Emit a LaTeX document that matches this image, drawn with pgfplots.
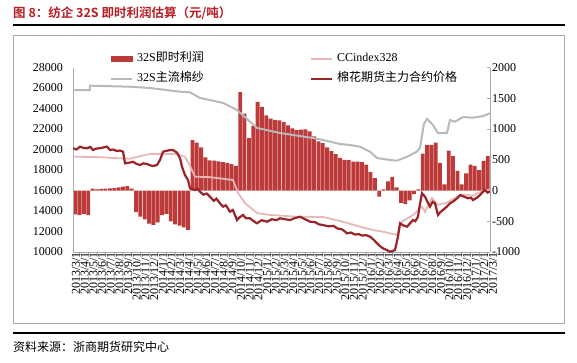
\documentclass[border=0pt]{standalone}
\usepackage{pgfplots}
\pgfplotsset{compat=1.18}
\usepackage{fontspec}
\setmainfont{Liberation Serif}
\newfontfamily\cjk{Noto Sans CJK SC}[BoldFont={Noto Sans CJK SC Bold}]
\definecolor{barcol}{RGB}{188,58,57}
\definecolor{futcol}{RGB}{155,36,40}
\definecolor{ccicol}{RGB}{230,185,184}
\definecolor{yarncol}{RGB}{185,185,185}
\definecolor{axcol}{RGB}{170,170,170}
\definecolor{titlecol}{RGB}{185,30,36}
\begin{document}
\begin{tikzpicture}
% ---------- right axis: bars ----------
\begin{axis}[
  scale only axis, width=417pt, height=184.5pt,
  xmin=0, xmax=48, ymin=-1000, ymax=2000,
  hide x axis,
  axis y line*=right,
  axis line style={-, draw=axcol},
  ytick={-1000,-500,...,2000},
  ytick style={draw=axcol},
  tick align=inside, major tick length=3pt,
  scaled y ticks=false,
  yticklabel style={anchor=west, inner sep=0pt, xshift=2pt, font=\fontsize{12}{14}\selectfont},
  /pgf/number format/1000 sep={},
  /pgf/number format/assume math mode=true,
  ybar, bar width=0.44,
]
\addplot[fill=barcol, draw=none] coordinates {
(0.25,-390) (0.75,-400) (1.25,-380) (1.75,-400) (2.25,30) (2.75,20) (3.25,25) (3.75,30)
(4.25,35) (4.75,40) (5.25,50) (5.75,65) (6.25,70) (6.75,30) (7.25,-350) (7.75,-425)
(8.25,-470) (8.75,-540) (9.25,-560) (9.75,-520) (10.25,-400) (10.75,-380) (11.25,-500) (11.75,-550)
(12.25,-570) (12.75,-600) (13.25,-640) (13.75,820) (14.25,780) (14.75,700) (15.25,540) (15.75,490)
(16.25,485) (16.75,475) (17.25,460) (17.75,450) (18.25,430) (18.75,400) (19.25,1600) (19.75,1250)
(20.25,850) (20.75,1050) (21.25,1440) (21.75,1360) (22.25,1220) (22.75,1170) (23.25,1150) (23.75,1140)
(24.25,1115) (24.75,1060) (25.25,1010) (25.75,985) (26.25,990) (26.75,995) (27.25,960) (27.75,880)
(28.25,800) (28.75,770) (29.25,700) (29.75,640) (30.25,590) (30.75,530) (31.25,500) (31.75,495)
(32.25,470) (32.75,470) (33.25,460) (33.75,420) (34.25,300) (34.75,200) (35.25,-100) (35.75,20)
(36.25,150) (36.75,220) (37.25,50) (37.75,-200) (38.25,-220) (38.75,-160) (39.25,-60) (39.75,20)
(40.25,600) (40.75,740) (41.25,740) (41.75,780) (42.25,450) (42.75,100) (43.25,650) (43.75,560)
(44.25,320) (44.75,100) (45.25,280) (45.75,420) (46.25,400) (46.75,330) (47.25,480) (47.75,560)
};
\end{axis}
% ---------- left axis: lines ----------
\begin{axis}[
  scale only axis, width=417pt, height=184.5pt,
  xmin=0, xmax=48, ymin=10000, ymax=28000,
  axis x line*=bottom, axis y line*=left,
  axis line style={-, draw=axcol},
  ytick={10000,12000,...,28000},
  scaled y ticks=false,
  ytick style={draw=none},
  yticklabel style={anchor=east, inner sep=0pt, xshift=-10pt, font=\fontsize{12}{14}\selectfont},
  xtick={0,...,48},
  xtick style={draw=none},
  xticklabels={2013/3/1,2013/4/1,2013/5/1,2013/6/1,2013/7/1,2013/8/1,2013/9/1,2013/10/1,2013/11/1,2013/12/1,
    2014/1/1,2014/2/1,2014/3/1,2014/4/1,2014/5/1,2014/6/1,2014/7/1,2014/8/1,2014/9/1,2014/10/1,2014/11/1,2014/12/1,
    2015/1/1,2015/2/1,2015/3/1,2015/4/1,2015/5/1,2015/6/1,2015/7/1,2015/8/1,2015/9/1,2015/10/1,2015/11/1,2015/12/1,
    2016/1/1,2016/2/1,2016/3/1,2016/4/1,2016/5/1,2016/6/1,2016/7/1,2016/8/1,2016/9/1,2016/10/1,2016/11/1,2016/12/1,
    2017/1/1,2017/2/1,2017/3/1},
  xticklabel style={rotate=90, anchor=east, inner sep=0pt, yshift=-3pt, font=\fontsize{12}{14}\selectfont},
  /pgf/number format/1000 sep={},
  /pgf/number format/assume math mode=true,
  legend columns=2,
  legend cell align=left,
  legend style={draw=none, fill=none, at={(0.0815,1.092)}, anchor=north west,
    font=\fontsize{12}{14}\selectfont,
    nodes={inner sep=0pt, text height=9pt, text depth=3pt},
    row sep=8pt,
    /tikz/every odd column/.append style={column sep=4pt},
    /tikz/every even column/.append style={column sep=106pt}},
  legend image code/.code={\draw[#1] (0pt,0pt) -- (21pt,0pt);},
]
\addlegendimage{legend image code/.code={\fill[barcol] (0pt,-2pt) rectangle (21pt,2.2pt);}}
\addlegendentry{32S{\cjk 即时利润}}
% CCindex328
\addplot[ccicol, line width=1.8pt] coordinates {
(0,19300) (3.11,19250) (5.41,19140) (6.56,19100) (7.71,19350) (8.86,19560) (10.59,19560)
(11.97,19560) (12.89,19300) (13.47,18400) (14.04,17350) (15.77,17300) (18.42,17024)
(18.99,15756) (19.79,14780) (21.18,13800) (22.68,13610) (25.78,13444) (28.78,13415)
(31.08,12956) (33.04,12470) (34.53,12146) (35.68,11980) (37.29,11660) (37.87,12956)
(39.14,13610) (40.17,14420) (40.52,13930) (41.32,15270) (42.0,14600) (43.0,14800)
(44.0,15300) (45.0,15600) (46.0,15500) (47.0,15900) (48.0,16100)
};
\addlegendentry{CCindex328}
% 32S yarn
\addplot[yarncol, line width=2pt] coordinates {
(0,25805) (1.95,25805) (1.96,26224) (6.56,26127) (8.86,26000) (12.32,25640) (13.47,25580)
(14.62,25024) (15.77,24830) (17.27,24537) (18.88,23854) (21.18,22100) (23.83,21610)
(27.62,21120) (28.78,20927) (30.73,20537) (31.88,20440) (33.04,20270) (34.19,19785)
(34.99,19170) (36.49,18975) (37.26,18910) (38.41,19268) (39.56,19785) (39.94,20146)
(40.40,22500) (40.75,23000) (41.44,22390) (42.01,21610) (43.05,21610) (43.39,22878)
(43.97,22710) (44.89,23170) (46.04,23100) (47.19,23268) (48.00,23530)
};
\addlegendentry{32S{\cjk 主流棉纱}}
% futures
\addplot[futcol, line width=2.2pt] coordinates {
(0,20120) (0.4,20000) (0.81,20280) (1.2,20150) (1.61,20120) (2.0,20250) (2.30,19950) (2.7,20100)
(3.11,20120) (3.5,20200) (3.91,20280) (4.26,19950) (4.6,20000) (5.06,19850) (5.4,19900) (5.76,19785)
(5.99,18650) (6.4,18700) (6.91,18800) (7.3,18600) (7.71,18490) (8.1,18650) (8.52,18585) (8.9,18450)
(9.21,18390) (9.67,18490) (10.01,18975) (10.36,19785) (10.82,19880) (11.17,19950) (11.51,19950)
(11.97,19690) (12.32,19140) (12.55,18320) (12.89,17510) (13.24,17024) (13.47,16214) (14.04,16050)
(14.3,16200) (14.62,15880) (15.0,15600) (15.4,15700) (15.77,15395) (16.2,15000) (16.5,15200)
(16.92,14750) (17.27,14420) (17.6,14550) (18.07,13930) (18.4,14100) (18.88,13120) (19.2,13400)
(19.57,13610) (19.9,13300) (20.37,13290) (20.8,13000) (21.18,12800) (21.7,13100) (22.33,12960)
(22.9,13200) (23.4,13100) (23.83,13290) (24.4,13200) (24.98,13120) (25.5,13300) (26.13,13440)
(26.7,13200) (27.28,12960) (27.9,12900) (28.3,12700) (28.78,12630) (29.4,12500) (30.0,12550)
(30.39,12310) (31.0,12200) (31.54,11820) (32.0,11900) (32.46,11700) (32.9,11750) (33.27,11600)
(33.7,11650) (34.19,11500) (34.6,11200) (34.99,10850) (35.3,10600) (35.68,10360) (36.1,10200)
(36.49,10030) (36.8,10100) (37.06,10200) (37.41,11500) (37.64,12800) (38.0,12600) (38.45,12470)
(38.8,12800) (39.14,13120) (39.4,13000) (39.71,13440) (39.9,14500) (40.17,15730) (40.52,15400)
(40.8,14900) (41.09,14420) (41.4,14900) (41.67,14750) (42.01,13610) (42.3,13900) (42.59,14100)
(43.0,14400) (43.39,14750) (43.7,14900) (43.97,15070) (44.3,15300) (44.55,15560) (45.0,15400)
(45.47,15240) (45.8,15300) (46.04,15070) (46.5,15300) (46.85,15560) (47.1,15800) (47.42,16050)
(47.7,15800) (48.00,15880)
};
\addlegendentry{\cjk 棉花期货主力合约价格}
\end{axis}
% ---------- frame, title, source ----------
\draw[axcol, line width=0.8pt] (-60pt,217pt) rectangle (491pt,-71pt);
\draw[black, line width=1.3pt] (-60pt,227pt) -- (492pt,227pt);
\draw[black, line width=1.3pt] (-60pt,-81pt) -- (492pt,-81pt);
\node[anchor=west, inner sep=0pt, text=titlecol, font=\cjk\bfseries\fontsize{12.5}{14}\selectfont] at (-60pt,239pt) {图 8：纺企 32S 即时利润估算（元/吨）};
\node[anchor=west, inner sep=0pt, font=\cjk\fontsize{12}{14}\selectfont] at (-60pt,-95pt) {资料来源：浙商期货研究中心};
\pgfresetboundingbox
\path[use as bounding box] (-73pt,-110pt) rectangle (504pt,252pt);
\end{tikzpicture}
\end{document}
